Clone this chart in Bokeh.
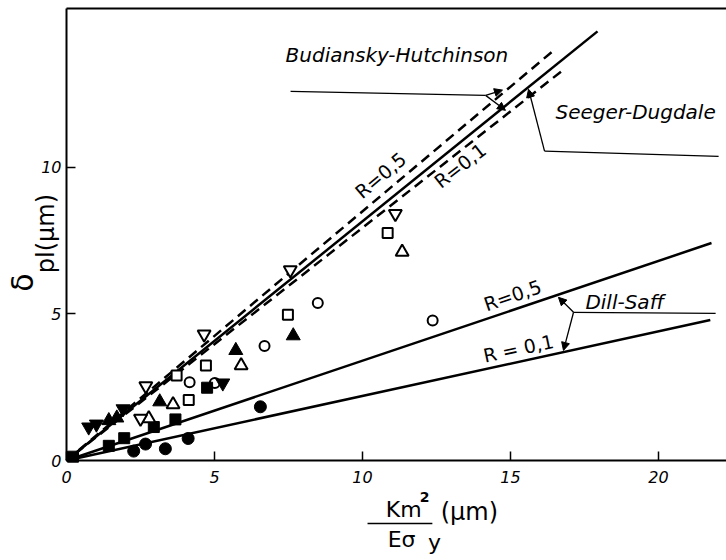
from bokeh.plotting import figure
from bokeh.models import Range1d, FixedTicker, LinearAxis, Label, Arrow, NormalHead
from bokeh.embed import file_html
from bokeh.resources import INLINE

# ---------------- data ----------------
open_circle_x = [4.16, 5.01, 6.69, 8.49, 12.37]
open_circle_y = [2.67, 2.64, 3.90, 5.37, 4.77]
filled_circle_x = [2.27, 2.67, 3.34, 4.11, 6.55]
filled_circle_y = [0.32, 0.56, 0.40, 0.75, 1.83]
open_square_x = [3.72, 4.13, 4.71, 7.48, 10.85]
open_square_y = [2.90, 2.06, 3.24, 4.97, 7.75]
filled_square_x = [0.22, 1.43, 1.95, 2.95, 3.68, 4.75]
filled_square_y = [0.13, 0.50, 0.76, 1.14, 1.40, 2.48]
open_tri_x = [2.78, 3.60, 5.90, 11.34]
open_tri_y = [1.43, 1.91, 3.24, 7.10]
filled_tri_x = [1.43, 1.70, 3.15, 5.72, 7.66]
filled_tri_y = [1.36, 1.45, 2.00, 3.75, 4.25]
open_itri_x = [2.50, 2.68, 4.65, 7.56, 11.11]
open_itri_y = [1.43, 2.54, 4.30, 6.49, 8.41]
filled_itri_x = [0.75, 1.01, 1.91, 5.28]
filled_itri_y = [1.14, 1.24, 1.76, 2.64]

# theoretical lines: slope and x extent (from origin)
bh_slope = 0.815          # Budiansky-Hutchinson
bh_x_end = 17.94
sd05_slope = 0.849        # Seeger-Dugdale R=0,5
sd05_x_end = 16.40
sd01_slope = 0.793        # Seeger-Dugdale R=0,1
sd01_x_end = 16.85
ds05_slope = 0.340        # Dill-Saff R=0,5
ds05_x_end = 21.79
ds01_slope = 0.220        # Dill-Saff R=0,1
ds01_x_end = 21.75

x_ticks = [0, 5, 10, 15, 20]
y_ticks = [0, 5, 10]
x_max = 22.3
y_max = 15.4

# ---------------- figure ----------------
# the frame covers the whole canvas; the axes are pinned at x=0 / y=0
p = figure(width=726, height=560, output_backend="svg", toolbar_location=None,
           x_range=Range1d(-66 / 29.6, 660 / 29.6),
           y_range=Range1d(-100 / 29.35, 460 / 29.35),
           min_border_left=0, min_border_right=0, min_border_top=0,
           min_border_bottom=0)
p.outline_line_color = None
p.grid.visible = False
p.background_fill_color = "white"
p.border_fill_color = "white"

for ax, ticks, bnds in ((p.xaxis[0], x_ticks, (0, x_max)), (p.yaxis[0], y_ticks, (0, y_max))):
    ax.ticker = FixedTicker(ticks=ticks)
    ax.fixed_location = 0
    ax.bounds = bnds
    ax.axis_line_width = 2
    ax.axis_line_color = "black"
    ax.major_tick_in = 9
    ax.major_tick_out = 0
    ax.major_tick_line_width = 1.5
    ax.minor_tick_line_color = None
    ax.major_label_text_font = "DejaVu Sans"
    ax.major_label_text_font_style = "italic"
    ax.major_label_text_font_size = "16px"
    ax.major_label_text_color = "black"
p.xaxis[0].major_label_standoff = 10
p.yaxis[0].major_label_standoff = 5
p.yaxis[0].major_label_text_baseline = "alphabetic"

top = LinearAxis(ticker=FixedTicker(ticks=[]), axis_line_width=2, fixed_location=y_max,
                 bounds=(0, x_max), major_tick_line_color=None, minor_tick_line_color=None,
                 major_label_text_font_size="0px")
p.add_layout(top, "above")

# ---------------- lines ----------------
p.line([0, bh_x_end], [0, bh_slope * bh_x_end], line_color="black", line_width=2.5)
p.line([0, sd05_x_end], [0, sd05_slope * sd05_x_end], line_color="black",
       line_width=2.5, line_dash="10 6")
p.line([0, sd01_x_end], [0, sd01_slope * sd01_x_end], line_color="black",
       line_width=2.5, line_dash="10 6", line_dash_offset=5)
p.line([0, ds05_x_end], [0, ds05_slope * ds05_x_end], line_color="black", line_width=2.5)
p.line([0, ds01_x_end], [0, ds01_slope * ds01_x_end], line_color="black", line_width=2.5)

# ---------------- markers ----------------
p.scatter(open_circle_x, open_circle_y, marker="circle", size=10,
          fill_color="white", line_color="black", line_width=2)
p.scatter(filled_circle_x, filled_circle_y, marker="circle", size=12,
          fill_color="black", line_color="black")
p.scatter(open_square_x, open_square_y, marker="square", size=10,
          fill_color="white", line_color="black", line_width=2)
p.scatter(filled_square_x, filled_square_y, marker="square", size=11,
          fill_color="black", line_color="black")
p.scatter(open_tri_x, open_tri_y, marker="triangle", size=13,
          fill_color="white", line_color="black", line_width=2)
p.scatter(filled_tri_x, filled_tri_y, marker="triangle", size=14,
          fill_color="black", line_color="black")
p.scatter(open_itri_x, open_itri_y, marker="inverted_triangle", size=13,
          fill_color="white", line_color="black", line_width=2)
p.scatter(filled_itri_x, filled_itri_y, marker="inverted_triangle", size=14,
          fill_color="black", line_color="black")

# ---------------- annotations ----------------
bh_leader_x = [7.57, 14.16]
bh_leader_y = [12.58, 12.44]
bh_tips = [(14.73, 12.62), (14.83, 11.93)]
sd_leader_x = [15.61, 16.15, 22.03]
sd_leader_y = [12.65, 10.54, 10.36]
ds_leader_x = [17.13, 21.93]
ds_leader_y = [5.05, 5.01]
ds_tips = [(16.62, 5.56), (16.79, 3.75)]

p.line(bh_leader_x, bh_leader_y, line_color="black", line_width=1.3)
for tx, ty in bh_tips:
    p.add_layout(Arrow(x_start=bh_leader_x[1], y_start=bh_leader_y[1], x_end=tx, y_end=ty,
                       line_width=1.3, end=NormalHead(size=8, fill_color="black",
                                                       line_color="black")))
p.line(sd_leader_x[1:], sd_leader_y[1:], line_color="black", line_width=1.3)
p.add_layout(Arrow(x_start=sd_leader_x[1], y_start=sd_leader_y[1],
                   x_end=sd_leader_x[0], y_end=sd_leader_y[0], line_width=1.3,
                   end=NormalHead(size=8, fill_color="black", line_color="black")))
p.line(ds_leader_x, ds_leader_y, line_color="black", line_width=1.3)
for tx, ty in ds_tips:
    p.add_layout(Arrow(x_start=ds_leader_x[0], y_start=ds_leader_y[0], x_end=tx, y_end=ty,
                       line_width=1.3, end=NormalHead(size=8, fill_color="black",
                                                       line_color="black")))

def lab(text, x, y, size, style="normal", angle=0, align="left", baseline="middle"):
    p.add_layout(Label(x=x, y=y, text=text, text_font="DejaVu Sans",
                       text_font_size=size, text_font_style=style, angle=angle,
                       angle_units="deg", text_align=align, text_baseline=baseline,
                       text_color="black"))

lab("Budiansky-Hutchinson", 7.40, 13.81, "20px", "italic")
lab("Seeger-Dugdale", 16.52, 11.86, "20px", "italic")
lab("Dill-Saff", 17.53, 5.39, "20px", "italic")
lab("R=0,5", 10.61, 9.72, "19px", angle=40, align="center")
lab("R=0,1", 13.30, 10.05, "19px", angle=38, align="center")
lab("R=0,5", 15.07, 5.63, "19px", angle=19, align="center")
lab("R = 0,1", 15.27, 3.82, "19px", angle=12, align="center")

# axis titles
lab("δ", -1.49, 6.06, "30px", angle=90, align="center", baseline="alphabetic")
lab("pl(μm)", -0.69, 7.73, "24px", angle=90, align="center", baseline="alphabetic")
lab("Km", 11.39, -1.67, "22px", align="center", baseline="alphabetic")
lab("2", 12.10, -1.23, "14px", "bold", align="center", baseline="alphabetic")
lab("Eσ", 11.32, -2.69, "22px", align="center", baseline="alphabetic")
lab("y", 12.43, -2.80, "22px", align="center", baseline="alphabetic")
lab("(μm)", 13.61, -1.74, "24px", align="center", baseline="middle")
p.add_layout(Arrow(x_start=10.17, y_start=-2.15, x_end=12.36, y_end=-2.15,
                   line_width=1.5, end=None, start=None))

open("out.html", "w").write(file_html(p, INLINE))
